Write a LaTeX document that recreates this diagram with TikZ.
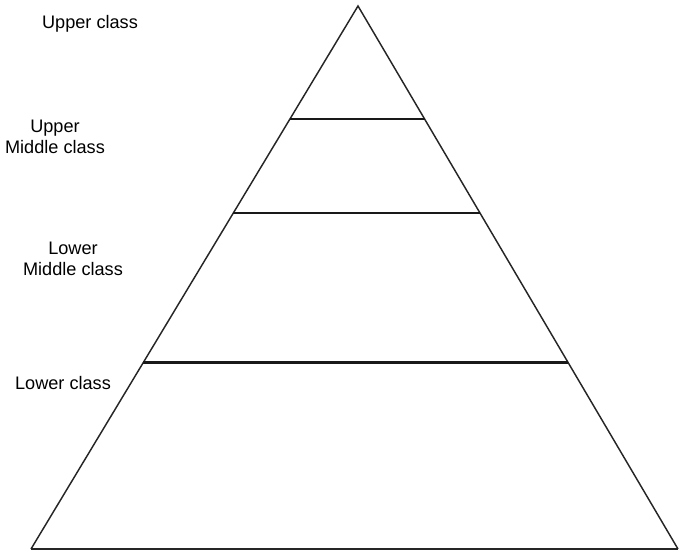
\documentclass[tikz,border=0pt]{standalone}
\usepackage{fontspec}
\setmainfont{Liberation Sans}
\usetikzlibrary{calc}

\begin{document}
\begin{tikzpicture}[
  x=0.75pt, y=-0.75pt,
  lbl/.style={
    font=\fontsize{13.6}{15.5}\selectfont,
    align=center, inner sep=0pt,
    text=black
  },
  side/.style={draw=black!85, line width=1.1pt, line join=miter},
  tier/.style={draw=black!90, line width=2pt}
]
\useasboundingbox (0,0) rectangle (679,553);

% ─── Pyramid ────────────────────────────────────────────────
\coordinate (apex) at (358, 6);
\coordinate (bl)   at ( 31, 549);
\coordinate (br)   at (678, 549);

\draw[side] (bl) -- (apex) -- (br);
\draw[side, line width=1.4pt] (bl) -- (br);

% ─── Tiers ──────────────────────────────────────────────────
\draw[tier] ($(apex)!0.208!(bl)$) -- ($(apex)!0.208!(br)$);
\draw[tier] ($(apex)!0.381!(bl)$) -- ($(apex)!0.381!(br)$);
\draw[tier] ($(apex)!0.657!(bl)$) -- ($(apex)!0.657!(br)$);

% ─── Labels ─────────────────────────────────────────────────
\node[lbl] (up)  at (90, 24)  {Upper class};
\node[lbl] (um)  at (55, 137) {Upper\\Middle class};
\node[lbl] (lm)  at (73, 259) {Lower\\Middle class};
\node[lbl] (low) at (63, 383) {Lower class};

\end{tikzpicture}
\end{document}
